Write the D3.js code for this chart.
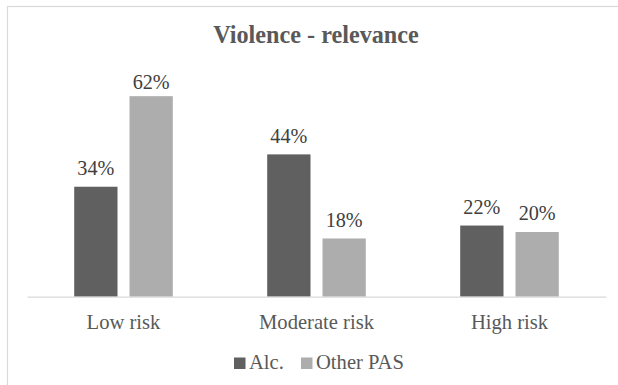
<!DOCTYPE html>
<html>
<head>
<meta charset="utf-8">
<script src="https://cdn.jsdelivr.net/npm/d3@7"></script>
<style>
  html, body { margin: 0; padding: 0; background: #fff; }
  svg { display: block; }
  svg text { font-family: "Times New Roman", "Liberation Serif", Times, serif !important; }
</style>
</head>
<body>
<svg id="chart" width="618" height="385"></svg>
<script>
// Risk groups along the x axis
const categories = ["Low risk", "Moderate risk", "High risk"];
// Series names and colours
const seriesNames = ["Alc.", "Other PAS"];
const seriesColors = ["#606060", "#adadad"];
// Share of cases per risk group (percent)
const alcValues = [34, 44, 22];
const otherPasValues = [62, 18, 20];

const title = "Violence - relevance";

const svg = d3.select("#chart");

// Outer frame
svg.append("rect")
  .attr("x", 7.5).attr("y", 6.5)
  .attr("width", 640).attr("height", 390)
  .attr("fill", "#fff")
  .attr("stroke", "#d9d9d9")
  .attr("stroke-width", 1.2);

// Title
svg.append("text")
  .attr("x", 316).attr("y", 43)
  .attr("text-anchor", "middle")
  .attr("font-size", 24.2)
  .attr("font-weight", "bold")
  .attr("fill", "#595959")
  .text(title);

const plotLeft = 27, plotRight = 606, baseY = 296.7, plotTop = 70.3;

const x0 = d3.scaleBand().domain(categories).range([plotLeft, plotRight]).padding(0);
const groupW = 98.6;
const x1 = d3.scaleBand().domain(seriesNames)
  .range([(x0.bandwidth() - groupW) / 2, (x0.bandwidth() + groupW) / 2])
  .paddingInner(0.217).paddingOuter(0);
const y = d3.scaleLinear().domain([0, 70]).range([baseY, plotTop]);

const rows = categories.map((c, i) => ({
  category: c,
  values: [
    { key: seriesNames[0], value: alcValues[i], color: seriesColors[0] },
    { key: seriesNames[1], value: otherPasValues[i], color: seriesColors[1] }
  ]
}));

const groups = svg.append("g").selectAll("g")
  .data(rows).join("g")
  .attr("transform", d => `translate(${x0(d.category)},0)`);

groups.selectAll("rect")
  .data(d => d.values).join("rect")
  .attr("x", d => x1(d.key))
  .attr("y", d => y(d.value))
  .attr("width", x1.bandwidth())
  .attr("height", d => baseY - y(d.value))
  .attr("fill", d => d.color);

// Value labels above each bar, kept inside the plot area
groups.selectAll("text")
  .data(d => d.values).join("text")
  .attr("x", d => x1(d.key) + x1.bandwidth() / 2)
  .attr("y", d => Math.max(y(d.value) - 11.8, 89.3))
  .attr("text-anchor", "middle")
  .attr("font-size", 20.2)
  .attr("fill", "#404040")
  .text(d => d.value + "%");

// Category axis
const xAxis = svg.append("g")
  .attr("transform", `translate(0,${baseY})`)
  .call(d3.axisBottom(x0).tickSize(0).tickPadding(0));
xAxis.select(".domain").attr("stroke", "#d9d9d9").attr("stroke-width", 1.2);
xAxis.selectAll("text")
  .attr("dy", null)
  .attr("y", 32.5)
  .attr("font-size", 20.6)
  .attr("fill", "#595959");

// Legend
const legendItems = [
  { name: seriesNames[0], color: seriesColors[0], x: 234 },
  { name: seriesNames[1], color: seriesColors[1], x: 301 }
];
const legend = svg.append("g").selectAll("g").data(legendItems).join("g")
  .attr("transform", d => `translate(${d.x},0)`);
legend.append("rect")
  .attr("x", 0).attr("y", 357.5)
  .attr("width", 11.5).attr("height", 11.5)
  .attr("fill", d => d.color);
legend.append("text")
  .attr("x", 15).attr("y", 369)
  .attr("font-size", 20.6)
  .attr("fill", "#595959")
  .text(d => d.name);
</script>
</body>
</html>
